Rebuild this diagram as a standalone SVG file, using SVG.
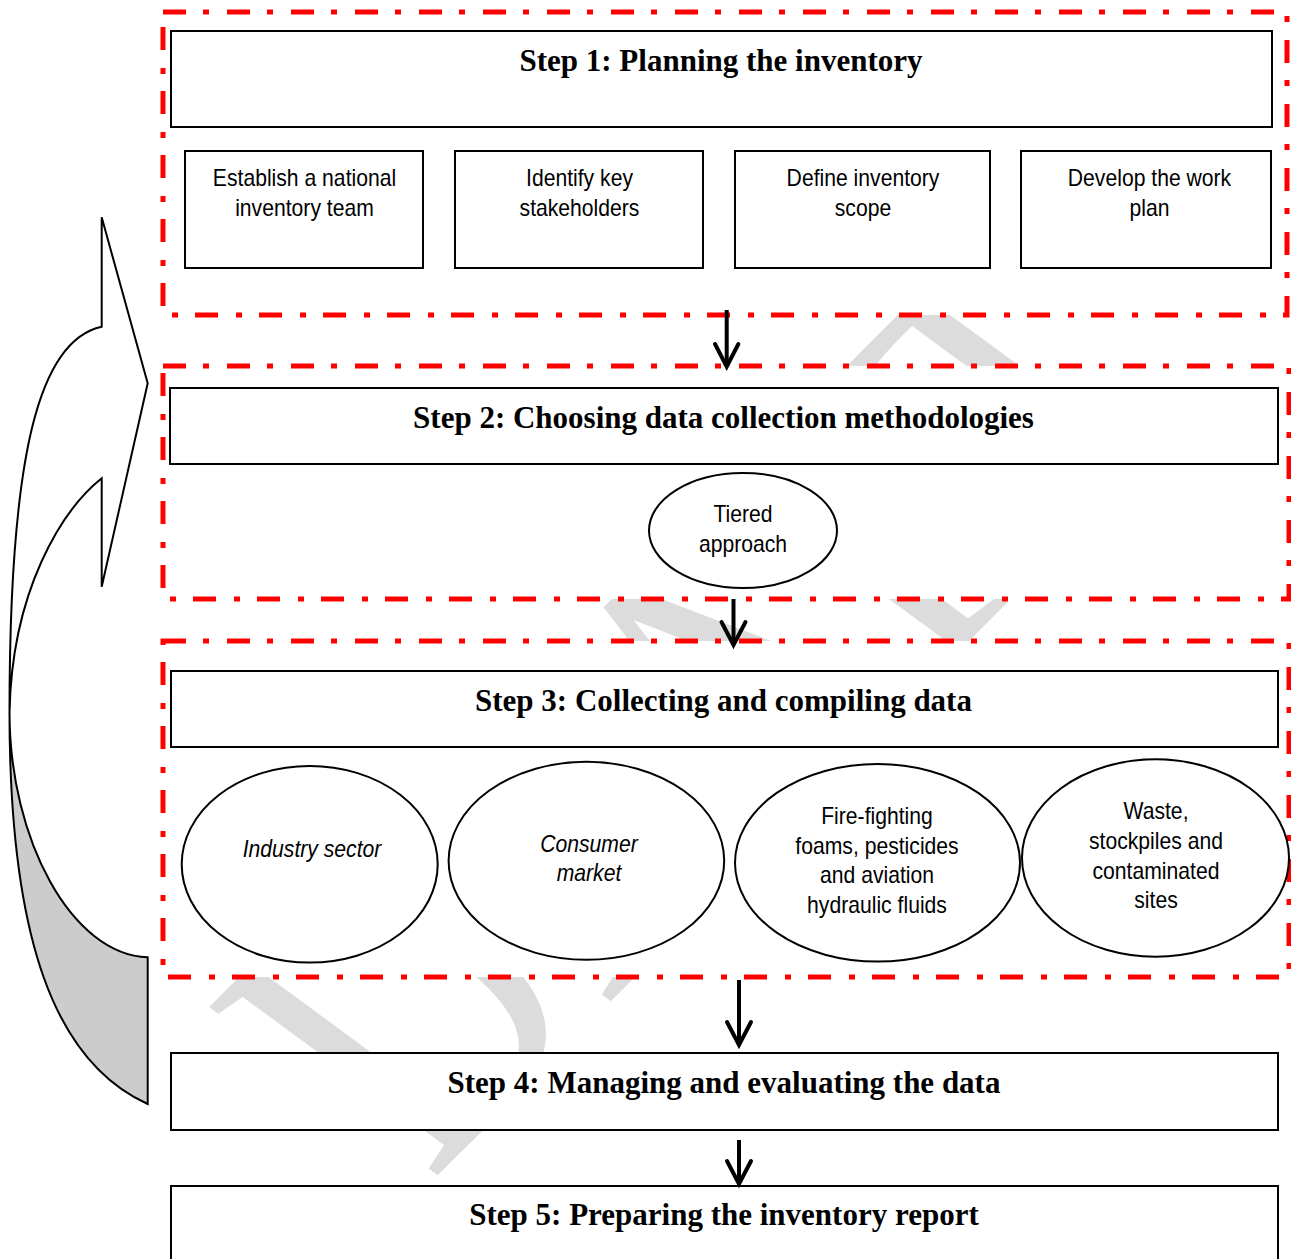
<svg xmlns="http://www.w3.org/2000/svg" width="1291" height="1259" viewBox="0 0 1291 1259">
<style>
.zone{fill:#fff;stroke:#ff0000;stroke-width:5;stroke-dasharray:23 17 6 18}
.box{fill:#fff;stroke:#000;stroke-width:2}
.ell{fill:#fff;stroke:#000;stroke-width:2}
.title{font-family:"Liberation Serif","Times New Roman",serif;font-weight:bold;font-size:31px;fill:#000;text-anchor:middle}
.lbl{font-family:"Liberation Sans",Arial,sans-serif;font-size:23px;fill:#000;text-anchor:middle}
.it{font-style:italic}
.shaft{stroke:#000;stroke-width:4;fill:none}
.head{stroke:#000;stroke-width:4;fill:none;stroke-linecap:round;stroke-linejoin:miter}
.wm{font-family:"Liberation Serif","Times New Roman",serif;font-size:100px;fill:#dcdcdc}
</style>
<rect width="1291" height="1259" fill="#fff"/>
<g id="watermark">
<text class="wm" transform="matrix(2.376 -2.389 3.49 2.568 430.9 1182.1)" x="0" y="0">DRAFT</text>
</g>
<g id="zones">
<rect id="zone1" class="zone" x="163" y="12" width="1124" height="303"/>
<rect id="zone2" class="zone" x="163" y="366" width="1126" height="233"/>
<rect id="zone3" class="zone" x="163" y="641" width="1126" height="336"/>
</g>
<g id="feedback-arrow" stroke="#000" stroke-width="2" stroke-linejoin="miter">
<path d="M9.5,712 C9.5,940 55,1062 147.7,1104 L147.7,957.3 C72,955 9.5,840 9.5,712 Z" fill="#cccccc"/>
<path d="M101.7,326.7 L101.7,217.3 L147.7,383.3 L101.7,586.7 L101.7,478.3 C62,510 12,590 9.5,712 C9.5,450 40,340 101.7,326.7 Z" fill="#fff"/>
</g>
<g id="step1">
<rect class="box" x="171" y="31" width="1101" height="96"/>
<text class="title" x="721" y="71">Step 1: Planning the inventory</text>
</g>
<g id="team">
<rect class="box" x="185" y="151" width="238" height="117"/>
<g transform="translate(304.5 0) scale(0.92 1)"><text class="lbl" x="0" y="186">Establish a national</text><text class="lbl" x="0" y="216">inventory team</text></g>
</g>
<g id="stakeholders">
<rect class="box" x="455" y="151" width="248" height="117"/>
<g transform="translate(579.5 0) scale(0.92 1)"><text class="lbl" x="0" y="186">Identify key</text><text class="lbl" x="0" y="216">stakeholders</text></g>
</g>
<g id="scope">
<rect class="box" x="735" y="151" width="255" height="117"/>
<g transform="translate(863 0) scale(0.92 1)"><text class="lbl" x="0" y="186">Define inventory</text><text class="lbl" x="0" y="216">scope</text></g>
</g>
<g id="workplan">
<rect class="box" x="1021" y="151" width="250" height="117"/>
<g transform="translate(1149.5 0) scale(0.92 1)"><text class="lbl" x="0" y="186">Develop the work</text><text class="lbl" x="0" y="216">plan</text></g>
</g>
<g id="step2">
<rect class="box" x="170" y="388" width="1108" height="76"/>
<text class="title" x="723.5" y="428">Step 2: Choosing data collection methodologies</text>
</g>
<g id="tiered">
<ellipse class="ell" cx="743" cy="530.5" rx="94" ry="57.5"/>
<g transform="translate(743 0) scale(0.92 1)"><text class="lbl" x="0" y="522">Tiered</text><text class="lbl" x="0" y="552">approach</text></g>
</g>
<g id="step3">
<rect class="box" x="171" y="671" width="1107" height="76"/>
<text class="title" x="723.5" y="711">Step 3: Collecting and compiling data</text>
</g>
<g id="industry">
<ellipse class="ell" cx="309.7" cy="864.3" rx="128" ry="98.3"/>
<g transform="translate(312 0) scale(0.92 1)"><text class="lbl it" x="0" y="857">Industry sector</text></g>
</g>
<g id="consumer">
<ellipse class="ell" cx="586.4" cy="860.8" rx="137.8" ry="99"/>
<g transform="translate(589 0) scale(0.92 1)"><text class="lbl it" x="0" y="852">Consumer</text><text class="lbl it" x="0" y="881">market</text></g>
</g>
<g id="firefighting">
<ellipse class="ell" cx="877.5" cy="862.8" rx="142.5" ry="98.8"/>
<g transform="translate(877 0) scale(0.92 1)"><text class="lbl" x="0" y="824">Fire-fighting</text><text class="lbl" x="0" y="854">foams, pesticides</text><text class="lbl" x="0" y="883">and aviation</text><text class="lbl" x="0" y="913">hydraulic fluids</text></g>
</g>
<g id="waste">
<ellipse class="ell" cx="1155.5" cy="858" rx="133.5" ry="98.7"/>
<g transform="translate(1156 0) scale(0.92 1)"><text class="lbl" x="0" y="819">Waste,</text><text class="lbl" x="0" y="849">stockpiles and</text><text class="lbl" x="0" y="879">contaminated</text><text class="lbl" x="0" y="908">sites</text></g>
</g>
<g id="step4">
<rect class="box" x="171" y="1053" width="1107" height="77"/>
<text class="title" x="724" y="1093">Step 4: Managing and evaluating the data</text>
</g>
<g id="step5">
<rect class="box" x="171" y="1186" width="1107" height="100"/>
<text class="title" x="724" y="1225">Step 5: Preparing the inventory report</text>
</g>
<g id="connectors">
<line class="shaft" x1="726.7" y1="310" x2="726.7" y2="364"/>
<polyline class="head" points="715,344 726.7,366.7 738.4,344"/>
<line class="shaft" x1="733.5" y1="599" x2="733.5" y2="642"/>
<polyline class="head" points="721.5,622 733.5,645 745.5,622"/>
<line class="shaft" x1="739" y1="980" x2="739" y2="1042"/>
<polyline class="head" points="727,1022 739,1045 751,1022"/>
<line class="shaft" x1="739" y1="1140" x2="739" y2="1181"/>
<polyline class="head" points="727,1161 739,1184 751,1161"/>
</g>
</svg>
